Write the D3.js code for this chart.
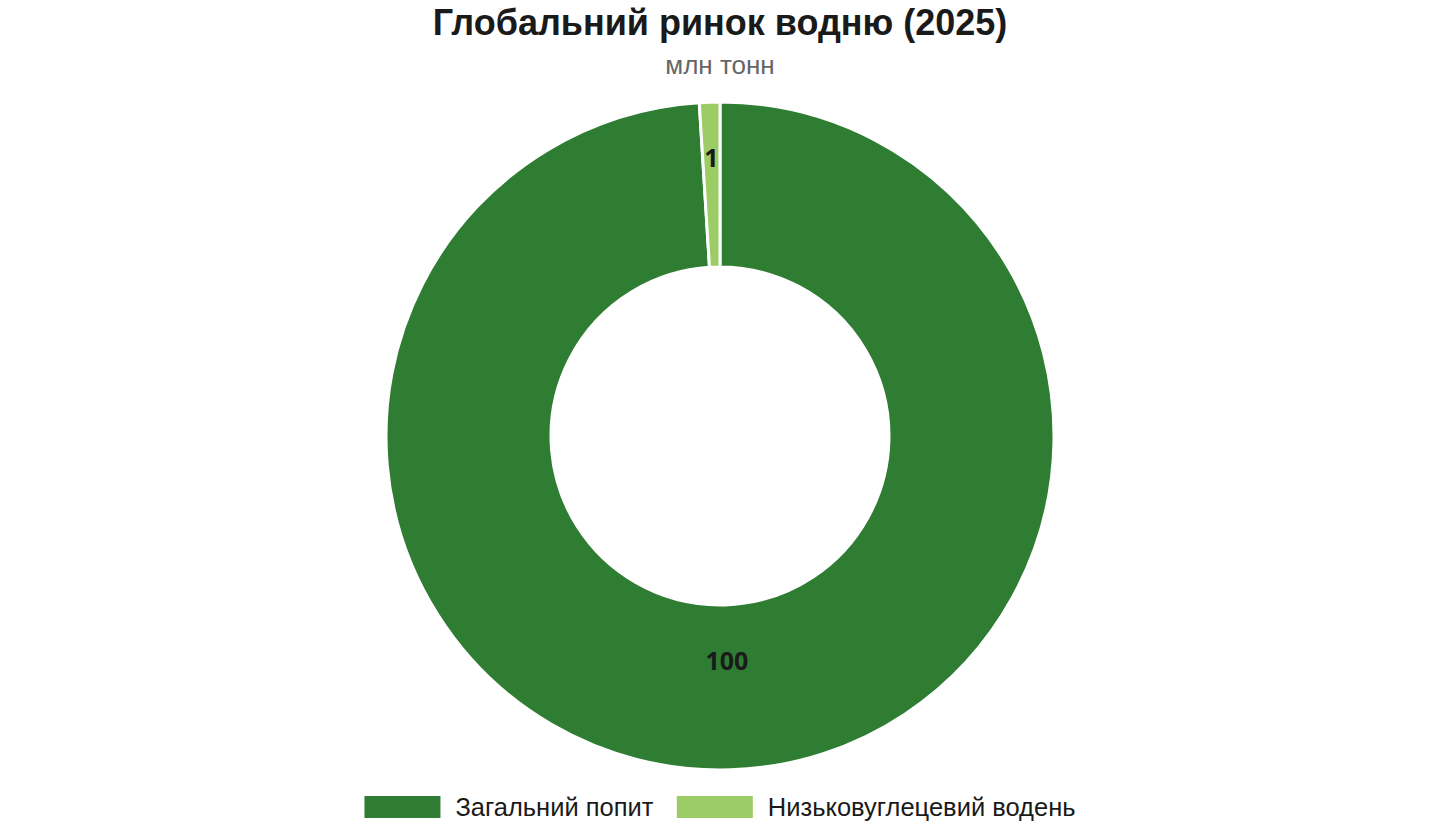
<!DOCTYPE html>
<html>
<head>
<meta charset="utf-8">
<script src="https://cdn.jsdelivr.net/npm/d3@7"></script>
<style>
  body { margin: 0; background: #fff; }
  svg { display: block; }
</style>
</head>
<body>
<div id="chart"></div>
<script>
// data
const categories = ["Загальний попит", "Низьковуглецевий водень"];
const values = [100, 1];
const colors = ["#2e7d32", "#9ccc65"];
const titleText = "Глобальний ринок водню (2025)";
const subtitleText = "млн тонн";

const width = 1440, height = 840;
const cx = 720, cy = 436;
const outerR = 334, innerR = 169;
const sansFont = "'Liberation Sans', Arial, sans-serif";

const svg = d3.select("#chart").append("svg")
    .attr("width", width)
    .attr("height", height);

// title
svg.append("text")
    .attr("x", cx).attr("y", 35)
    .attr("text-anchor", "middle")
    .attr("font-family", sansFont)
    .attr("font-size", 36).attr("font-weight", "bold")
    .attr("fill", "#1a1a1a")
    .text(titleText);

svg.append("text")
    .attr("x", cx).attr("y", 74)
    .attr("text-anchor", "middle")
    .attr("font-family", sansFont)
    .attr("font-size", 26)
    .attr("fill", "#666")
    .text(subtitleText);

const pie = d3.pie().sort(null).value(d => d.value);
const arcs = pie(categories.map((c, i) => ({ name: c, value: values[i], color: colors[i] })));

const arc = d3.arc().innerRadius(innerR).outerRadius(outerR);

const g = svg.append("g").attr("transform", `translate(${cx},${cy})`);

g.selectAll("path")
    .data(arcs)
    .join("path")
    .attr("d", arc)
    .attr("fill", d => d.data.color)
    .attr("stroke", "#fff")
    .attr("stroke-width", 3);

// labels: thin slices pushed toward the outer edge
g.selectAll("text.lbl")
    .data(arcs)
    .join("text")
    .attr("class", "lbl")
    .each(function(d) {
        const a = (d.startAngle + d.endAngle) / 2;
        const r = (d.endAngle - d.startAngle) < 0.3 ? outerR - 55 : 224;
        d3.select(this)
            .attr("x", r * Math.sin(a))
            .attr("y", -r * Math.cos(a));
    })
    .attr("text-anchor", "middle")
    .attr("dominant-baseline", "central")
    .attr("font-family", "'Open Sans', sans-serif")
    .attr("font-size", 25).attr("font-weight", "bold")
    .attr("fill", "#1a1a1a")
    .text(d => d.data.value);

// legend
const legend = svg.append("g");
const items = legend.selectAll("g")
    .data(categories)
    .join("g");

items.append("rect")
    .attr("width", 76).attr("height", 22)
    .attr("y", -11)
    .attr("fill", (d, i) => colors[i]);

items.append("text")
    .attr("x", 91).attr("y", 0)
    .attr("dominant-baseline", "central")
    .attr("font-family", sansFont)
    .attr("font-size", 25.5)
    .attr("fill", "#1a1a1a")
    .text(d => d);

let xPos = 0;
items.each(function() {
    const w = this.getBBox().width;
    d3.select(this).attr("transform", `translate(${xPos},0)`);
    xPos += w + 23;
});
const total = xPos - 23;
legend.attr("transform", `translate(${cx - total / 2},807)`);
</script>
</body>
</html>
